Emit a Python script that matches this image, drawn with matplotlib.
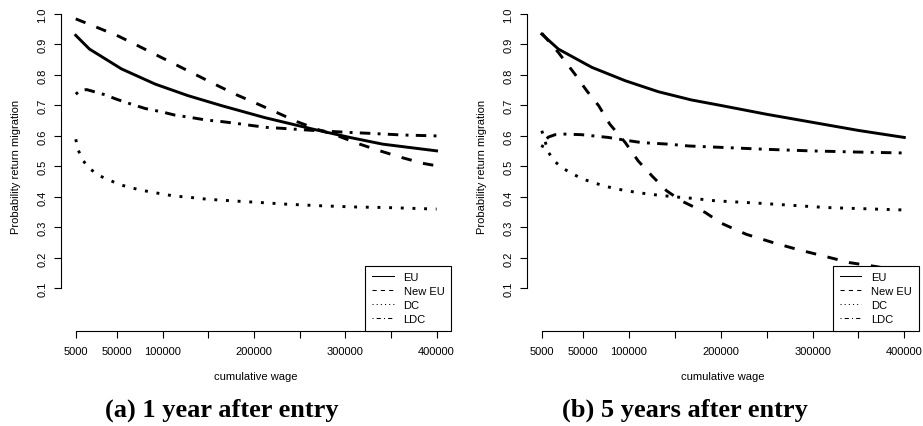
import matplotlib
matplotlib.use("Agg")
import matplotlib.pyplot as plt
from matplotlib.lines import Line2D

plt.rcParams['font.family'] = ['Liberation Sans', 'DejaVu Sans']

# ---- data (cumulative wage, probability) ----
xticks = [5000, 50000, 100000, 150000, 200000, 250000, 300000, 350000, 400000]
xtick_labels = ["5000", "50000", "100000", "", "200000", "", "300000", "", "400000"]
yticks = [0.1, 0.2, 0.3, 0.4, 0.5, 0.6, 0.7, 0.8, 0.9, 1.0]
series_names = ["EU", "New EU", "DC", "LDC"]

# (a) 1 year after entry
a_eu_x = [5000, 20000, 55000, 92000, 128000, 165000, 212000, 265000, 305000, 341000, 400000]
a_eu_y = [0.930, 0.885, 0.820, 0.770, 0.732, 0.699, 0.660, 0.622, 0.595, 0.573, 0.551]
a_neu_x = [5000, 30000, 52000, 73000, 95000, 117000, 139000, 161000, 181000, 204000,
           225000, 247000, 269000, 292000, 316000, 338000, 362000, 385000, 400000]
a_neu_y = [0.984, 0.954, 0.927, 0.896, 0.863, 0.830, 0.797, 0.764, 0.735, 0.705,
           0.677, 0.647, 0.622, 0.600, 0.573, 0.551, 0.529, 0.510, 0.502]
a_dc_x = [5000, 7800, 12700, 20600, 30500, 41800, 53500, 65500, 77000, 89000, 101000,
          114000, 126000, 137000, 150000, 187000, 210000, 236000, 272000, 309000, 345000, 400000]
a_dc_y = [0.589, 0.553, 0.520, 0.492, 0.470, 0.455, 0.440, 0.430, 0.422, 0.415, 0.409,
          0.402, 0.400, 0.396, 0.392, 0.385, 0.381, 0.376, 0.371, 0.367, 0.365, 0.360]
a_ldc_x = [5000, 10000, 17000, 37000, 50000, 66000, 81000, 99000, 114000, 132000, 148000,
           165000, 181000, 198000, 214000, 230000, 270000, 308000, 330000, 363000, 400000]
a_ldc_y = [0.737, 0.749, 0.752, 0.735, 0.720, 0.704, 0.690, 0.679, 0.668, 0.660, 0.652,
           0.647, 0.641, 0.634, 0.628, 0.625, 0.617, 0.611, 0.608, 0.603, 0.600]

# (b) 5 years after entry
b_eu_x = [5000, 23000, 59500, 96000, 132000, 168000, 200000, 250000, 301000, 350000, 400000]
b_eu_y = [0.934, 0.885, 0.825, 0.781, 0.745, 0.718, 0.700, 0.671, 0.644, 0.618, 0.595]
b_neu_x = [5000, 23000, 41000, 54000, 67000, 79000, 96000, 110000, 125000, 141000, 157000,
           183000, 201000, 228000, 257000, 283000, 312000, 341000, 368000, 400000]
b_neu_y = [0.937, 0.874, 0.803, 0.748, 0.699, 0.639, 0.578, 0.518, 0.469, 0.420, 0.387,
           0.349, 0.313, 0.277, 0.250, 0.228, 0.206, 0.184, 0.172, 0.155]
b_dc_x = [5000, 8600, 12200, 19500, 28500, 39400, 50300, 61000, 73000, 85000, 97600,
          110000, 122000, 134000, 147000, 170000, 194500, 243000, 315000, 400000]
b_dc_y = [0.617, 0.582, 0.546, 0.515, 0.493, 0.474, 0.458, 0.447, 0.436, 0.427, 0.420,
          0.414, 0.409, 0.405, 0.401, 0.395, 0.387, 0.379, 0.365, 0.357]
b_ldc_x = [5000, 8600, 12000, 19500, 30000, 48600, 77500, 96000, 114000, 143000, 165000,
           196000, 250000, 297000, 350000, 400000]
b_ldc_y = [0.562, 0.584, 0.596, 0.604, 0.606, 0.604, 0.595, 0.586, 0.578, 0.573, 0.567,
           0.563, 0.556, 0.551, 0.547, 0.544]

panels = [
    ("(a) 1 year after entry",
     [(a_eu_x, a_eu_y), (a_neu_x, a_neu_y), (a_dc_x, a_dc_y), (a_ldc_x, a_ldc_y)]),
    ("(b) 5 years after entry",
     [(b_eu_x, b_eu_y), (b_neu_x, b_neu_y), (b_dc_x, b_dc_y), (b_ldc_x, b_ldc_y)]),
]

# R-like line types: solid, "44", "13", "1343" (scaled by line width)
linestyles = ["-", (0, (3.6, 4.0)), (0, (1, 3)), (0, (1, 2.5, 3.6, 2.5))]
legend_styles = ["-", (0, (4, 4)), (0, (1, 3)), (0, (1, 3, 4, 3))]

fig = plt.figure(figsize=(9.23, 4.27), dpi=100)
W, H = 923.0, 427.0
# plot regions in pixels (left, right), like R's plot region
boxes = [(61.3, 451.0), (527.3, 918.8)]
top_px, bottom_px = 2.8, 332.0
caption_x = [222.0, 685.0]

for (title, data), (lpx, rpx), cx in zip(panels, boxes, caption_x):
    ax = fig.add_axes([lpx / W, 1 - bottom_px / H, (rpx - lpx) / W, (bottom_px - top_px) / H])
    for (xs, ys), ls in zip(data, linestyles):
        ax.plot(xs, ys, color="black", lw=2.1, linestyle=ls)

    ax.set_xlim(5000 - 0.04 * 395000, 400000 + 0.04 * 395000)
    ax.set_ylim(0.0 - 0.04, 1.04)

    for s in ("top", "right"):
        ax.spines[s].set_visible(False)
    ax.spines["left"].set_bounds(0.1, 1.0)
    ax.spines["bottom"].set_bounds(5000, 400000)
    ax.spines["left"].set_linewidth(0.8)
    ax.spines["bottom"].set_linewidth(0.8)

    ax.set_xticks(xticks)
    ax.set_xticklabels(xtick_labels)
    ax.set_yticks(yticks)
    ax.set_yticklabels(["%.1f" % v for v in yticks])
    ax.tick_params(axis="both", direction="out", length=5, width=0.8, labelsize=8)
    ax.tick_params(axis="x", pad=6)
    ax.tick_params(axis="y", pad=5)
    plt.setp(ax.get_yticklabels(), rotation=90, va="center")

    ax.set_xlabel("cumulative wage", fontsize=8)
    ax.xaxis.set_label_coords(0.5, -0.137)
    ax.xaxis.label.set_va("center")
    ax.set_ylabel("Probability return migration", fontsize=8)
    ax.yaxis.set_label_coords(-0.116, 0.5)
    ax.yaxis.label.set_va("center")

    handles = [Line2D([], [], color="black", lw=0.75, linestyle=ls) for ls in legend_styles]
    leg = ax.legend(handles, series_names, loc="lower right", bbox_to_anchor=(1, 0),
                    borderaxespad=0, fontsize=8, fancybox=False, edgecolor="black",
                    framealpha=1, handlelength=1.95, handletextpad=0.9,
                    labelspacing=0.36, borderpad=0.6)
    leg.get_frame().set_linewidth(0.8)

    fig.text(cx / W, 1 - 410 / H, title, ha="center", va="center",
             fontsize=19, fontweight="bold", family=["Liberation Serif", "DejaVu Serif"])

fig.savefig("out.png", dpi=100)
